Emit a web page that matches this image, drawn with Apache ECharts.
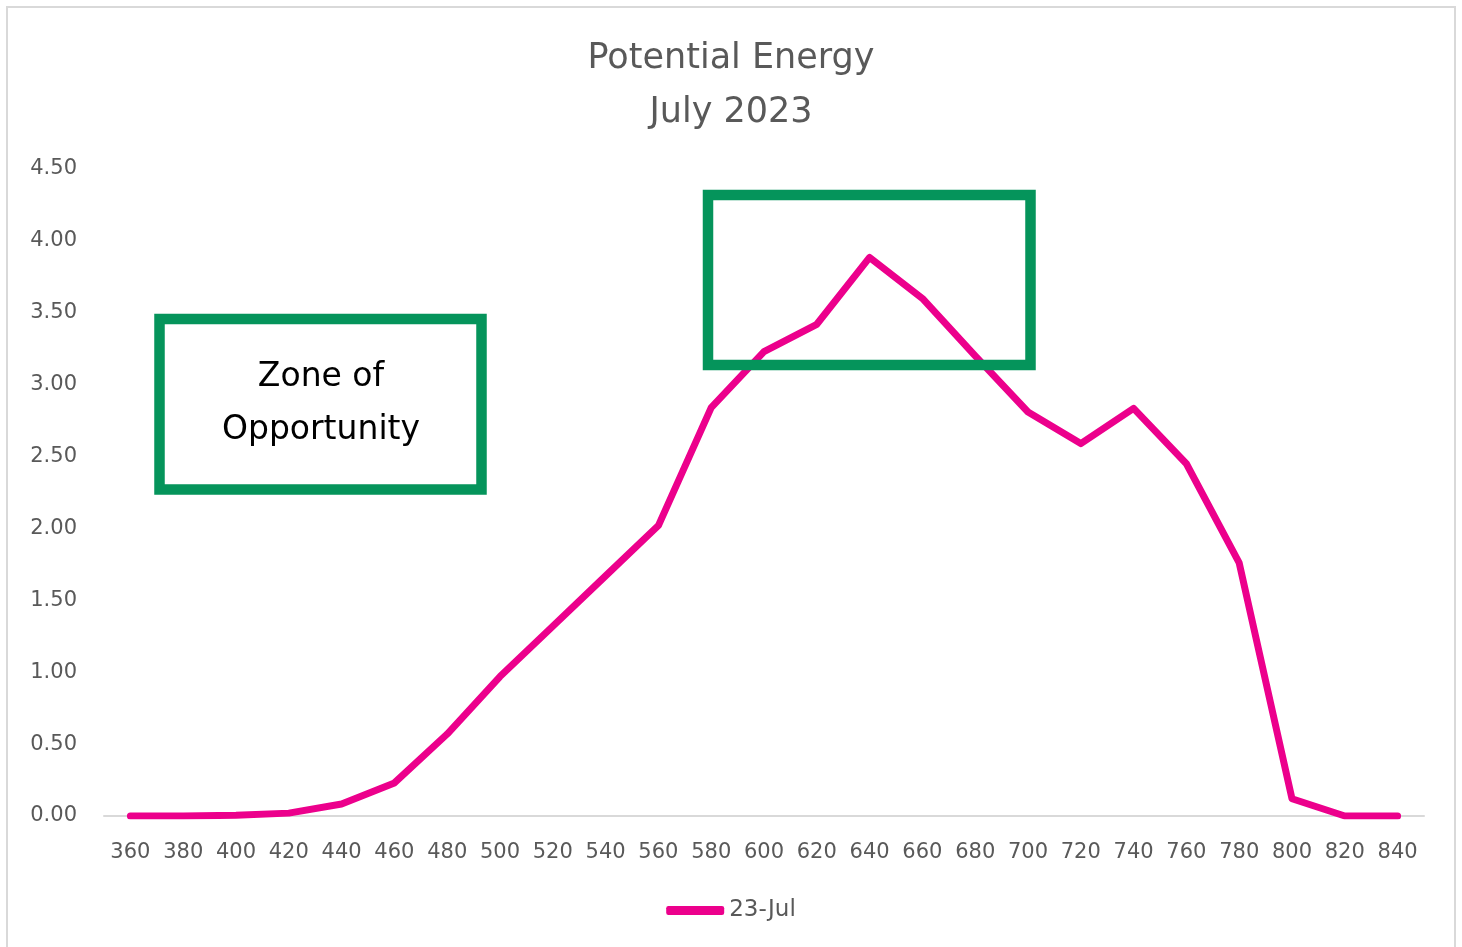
<!DOCTYPE html>
<html lang="en">
<head>
	<meta charset="UTF-8">
	<script src="https://cdn.jsdelivr.net/npm/echarts@6/dist/echarts.min.js"></script>
	<title>Potential Energy</title>
</head>
<body style="margin:0">
<div id="pic" style="width:1462px;height:947px"></div>
<script>
	"use strict";

	const wl=["360","380","400","420","440","460","480","500","520","540","560","580","600","620","640","660","680","700","720","740","760","780","800","820","840"];
	const jul=[0,0,0.005,0.02,0.083,0.23,0.57,0.97,1.32,1.67,2.02,2.84,3.23,3.42,3.885,3.6,3.2,2.81,2.59,2.835,2.45,1.76,0.12,0,0];
	const yTicks=[0,0.5,1,1.5,2,2.5,3,3.5,4,4.5];
	const zoneText="Zone of\nOpportunity";

	const grey="#595959",pink="#EC008C",green="#05945B";
	const ff="'DejaVu Sans', sans-serif";

	let pic=echarts.init(document.getElementById("pic"));
	let option=
		{
			animation:false,
			backgroundColor:"#fff",
			title:{
				text:"Potential Energy\nJuly 2023",
				left:"center",top:27,
				textStyle:{color:grey,fontSize:35,fontWeight:"normal",fontFamily:ff,lineHeight:54}
			},
			grid:{left:104,right:38,top:169,bottom:131},
			legend:{
				bottom:20,left:"center",
				icon:"roundRect",itemWidth:58,itemHeight:9,itemGap:3,
				textStyle:{color:grey,fontSize:23,fontFamily:ff}
			},
			xAxis:{
				type:"category",
				data:wl,
				boundaryGap:true,
				axisTick:{show:false},
				axisLine:{lineStyle:{color:"#d9d9d9",width:2}},
				axisLabel:{color:grey,fontSize:21,fontFamily:ff,margin:26,interval:0}
			},
			yAxis:{
				type:"value",
				min:yTicks[0],max:yTicks[yTicks.length-1],interval:0.5,
				splitLine:{show:false},
				axisLine:{show:false},
				axisTick:{show:false},
				axisLabel:{color:grey,fontSize:21,fontFamily:ff,margin:27,formatter:v=>v.toFixed(2)}
			},
			series:[{
				name:"23-Jul",
				type:"line",
				data:jul,
				symbol:"none",
				lineStyle:{color:pink,width:7,cap:"round",join:"round"},
				itemStyle:{color:pink}
			}],
			graphic:[
				{type:"rect",shape:{x:7,y:7,width:1448,height:960},style:{fill:"none",stroke:"#d9d9d9",lineWidth:2},silent:true},
				{type:"rect",shape:{x:159.5,y:319,width:322,height:170.5},style:{fill:"#fff",stroke:green,lineWidth:10.5},z:10},
				{type:"text",x:321,y:404,style:{text:zoneText,fill:"#000",font:"33px "+ff,align:"center",verticalAlign:"middle",lineHeight:53},z:11},
				{type:"rect",shape:{x:708,y:195,width:322.5,height:170},style:{fill:"none",stroke:green,lineWidth:10.5},z:10}
			]
		};
	pic.setOption(option);
</script>
</body>
</html>
